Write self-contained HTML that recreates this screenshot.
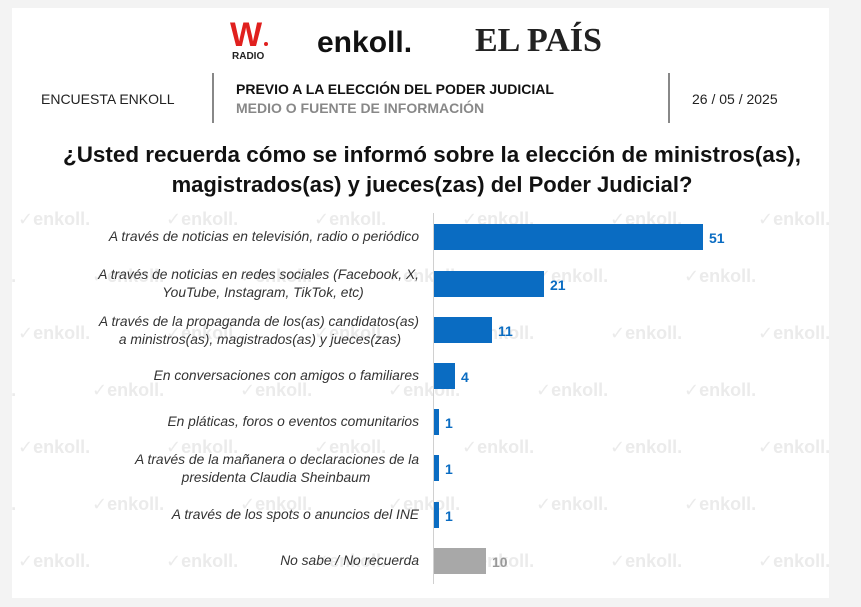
<!DOCTYPE html>
<html><head><meta charset="utf-8"><style>
body{margin:0;width:861px;height:607px;background:#f3f3f3;overflow:hidden;font-family:"Liberation Sans",sans-serif;}
svg{position:absolute;left:0;top:0}
</style></head><body>
<svg width="861" height="607" xmlns="http://www.w3.org/2000/svg" font-family="Liberation Sans, DejaVu Sans, sans-serif">
<defs><clipPath id="c"><rect x="12" y="8" width="817" height="590"/></clipPath></defs>
<rect x="12" y="8" width="817" height="590" fill="#fff"/>
<g clip-path="url(#c)" fill="#ebebeb" font-size="18" font-weight="bold">
<g id="r0">
<text x="18" y="225">✓enkoll.</text><text x="166" y="225">✓enkoll.</text><text x="314" y="225">✓enkoll.</text><text x="462" y="225">✓enkoll.</text><text x="610" y="225">✓enkoll.</text><text x="758" y="225">✓enkoll.</text>
</g>
<g id="r1">
<text x="-56" y="282">✓enkoll.</text><text x="92" y="282">✓enkoll.</text><text x="240" y="282">✓enkoll.</text><text x="388" y="282">✓enkoll.</text><text x="536" y="282">✓enkoll.</text><text x="684" y="282">✓enkoll.</text>
</g>
<use href="#r0" y="114"/><use href="#r1" y="114"/>
<use href="#r0" y="228"/><use href="#r1" y="228"/>
<use href="#r0" y="342"/><use href="#r1" y="342"/>
</g>
<!-- logos -->
<text x="230" y="46" font-size="34" font-weight="bold" fill="#e0201e">W</text>
<circle cx="266" cy="44" r="2" fill="#e0201e"/>
<text x="232" y="59" font-size="10" font-weight="bold" fill="#222">RADIO</text>
<text x="317" y="52" font-size="30" font-weight="bold" fill="#111">enkoll.</text>
<text x="475" y="51" font-size="34" font-weight="bold" fill="#222" font-family="Liberation Serif, serif">EL PAÍS</text>
<!-- header -->
<text x="41" y="104" font-size="14" fill="#222">ENCUESTA ENKOLL</text>
<rect x="212" y="73" width="2" height="50" fill="#888"/>
<text x="236" y="94" font-size="14" font-weight="bold" fill="#111">PREVIO A LA ELECCIÓN DEL PODER JUDICIAL</text>
<text x="236" y="113" font-size="14" font-weight="bold" fill="#888">MEDIO O FUENTE DE INFORMACIÓN</text>
<rect x="668" y="73" width="2" height="50" fill="#888"/>
<text x="692" y="104" font-size="14" fill="#222">26 / 05 / 2025</text>
<g font-size="22" font-weight="bold" fill="#111" text-anchor="middle">
<text x="432" y="162" textLength="738" lengthAdjust="spacingAndGlyphs">¿Usted recuerda cómo se informó sobre la elección de ministros(as),</text>
<text x="432" y="192">magistrados(as) y jueces(zas) del Poder Judicial?</text>
</g>
<!-- axis -->
<rect x="433" y="213" width="1" height="371" fill="#d0d0d0"/>
<!-- labels -->
<g font-size="13.8" font-style="italic" fill="#333">
<text x="419" y="241" text-anchor="end">A través de noticias en televisión, radio o periódico</text>
<text x="419" y="279" text-anchor="end">A través de noticias en redes sociales (Facebook, X,</text>
<text x="263" y="297" text-anchor="middle">YouTube, Instagram, TikTok, etc)</text>
<text x="419" y="326" text-anchor="end">A través de la propaganda de los(as) candidatos(as)</text>
<text x="260" y="344" text-anchor="middle">a ministros(as), magistrados(as) y jueces(zas)</text>
<text x="419" y="380" text-anchor="end">En conversaciones con amigos o familiares</text>
<text x="419" y="426" text-anchor="end">En pláticas, foros o eventos comunitarios</text>
<text x="419" y="464" text-anchor="end">A través de la mañanera o declaraciones de la</text>
<text x="276" y="482" text-anchor="middle">presidenta Claudia Sheinbaum</text>
<text x="419" y="519" text-anchor="end">A través de los spots o anuncios del INE</text>
<text x="419" y="565" text-anchor="end">No sabe / No recuerda</text>
</g>
<!-- bars -->
<g fill="#0a6cc2">
<rect x="434" y="224" width="269" height="26"/>
<rect x="434" y="271" width="110" height="26"/>
<rect x="434" y="317" width="58" height="26"/>
<rect x="434" y="363" width="21" height="26"/>
<rect x="434" y="409" width="5" height="26"/>
<rect x="434" y="455" width="5" height="26"/>
<rect x="434" y="502" width="5" height="26"/>
</g>
<rect x="434" y="548" width="52" height="26" fill="#a8a8a8"/>
<g font-size="14" font-weight="bold" fill="#0a6cc2">
<text x="709" y="243">51</text>
<text x="550" y="290">21</text>
<text x="498" y="336">11</text>
<text x="461" y="382">4</text>
<text x="445" y="428">1</text>
<text x="445" y="474">1</text>
<text x="445" y="521">1</text>
</g>
<text x="492" y="567" font-size="14" font-weight="bold" fill="#999">10</text>
</svg>
</body></html>
